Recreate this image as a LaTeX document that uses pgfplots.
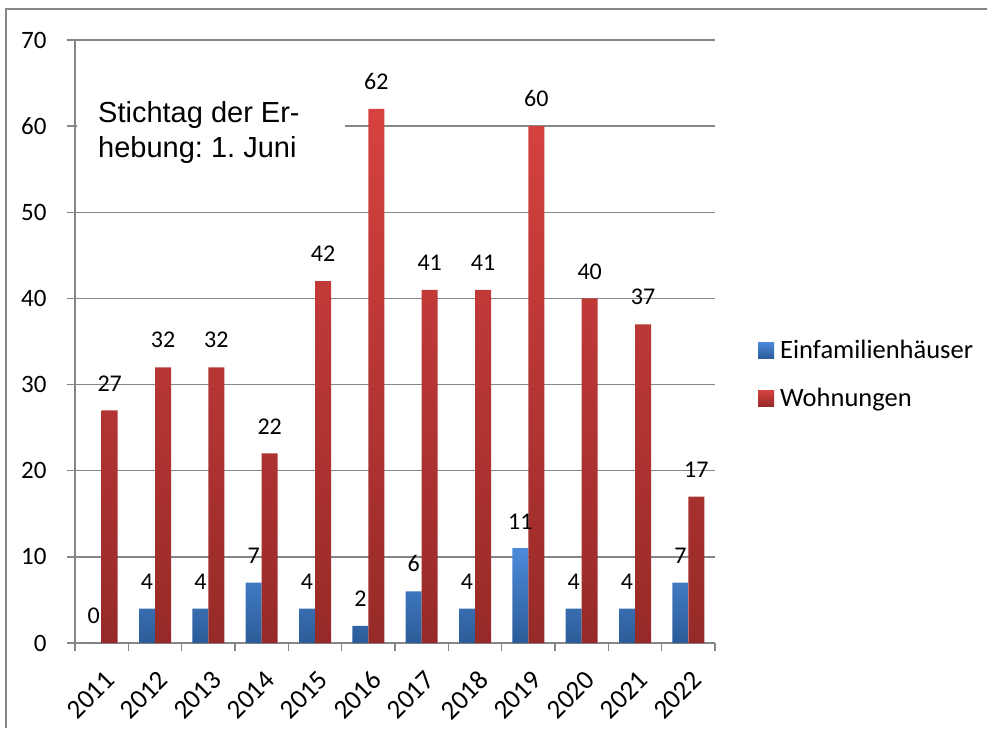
\documentclass[border=0pt]{standalone}
\usepackage{pgfplots}
\pgfplotsset{compat=1.18}
\usepackage{fontspec}
\setmainfont{Carlito}
\newfontfamily\arialfont{Liberation Sans}
\definecolor{axgray}{RGB}{134,134,134}
\definecolor{bluetop}{RGB}{76,138,218}
\definecolor{bluebot}{RGB}{44,92,152}
\definecolor{redtop}{RGB}{214,66,64}
\definecolor{redbot}{RGB}{150,42,40}
\frenchspacing
\begin{document}
\begin{tikzpicture}
\useasboundingbox (0,0) rectangle (987pt,728pt);
\draw[axgray, line width=1.5pt] (6pt,0pt) -- (6pt,719pt) -- (987pt,719pt);
\begin{axis}[
  at={(75pt,85pt)}, anchor=south west,
  scale only axis, width=640pt, height=603pt,
  xmin=-0.5, xmax=11.5, ymin=0, ymax=70,
  ybar=0pt, bar width=16pt,
  axis x line*=bottom, axis y line*=left,
  axis line style={axgray, line width=1.5pt},
  ymajorgrids, grid style={axgray, line width=1.5pt},
  ytick={0,10,...,70},
  xtick={-0.5,0.5,...,11.5},
  x tick label as interval,
  xticklabels={2011,2012,2013,2014,2015,2016,2017,2018,2019,2020,2021,2022},
  tick style={axgray, line width=1.5pt},
  major tick length=8pt, tick align=outside,
  /pgf/number format/assume math mode=true,
  ticklabel style={font=\fontsize{25}{29}\selectfont, text=black},
  yticklabel style={xshift=-17pt},
  xticklabel style={xshift=2pt, yshift=-18pt, rotate=45, anchor=north east, inner sep=0pt, font=\fontsize{27}{30}\selectfont},
  nodes near coords,
  every node near coord/.append style={font=\fontsize{24}{28}\selectfont, text=black, inner sep=0pt, anchor=south, yshift=19pt},
  legend style={at={(1.0625,0.446)}, anchor=west, draw=none, fill=none,
    font=\fontsize{26.5}{31}\selectfont, row sep=24pt, legend cell align=left},
  legend image code/.code={\path[#1, draw=none] (0pt,-8pt) rectangle (16pt,8pt); \path (20pt,0pt);},
]
\addplot[draw=none, top color=bluetop, bottom color=bluebot] coordinates {
  (0,0) (1,4) (2,4) (3,7) (4,4) (5,2) (6,6) (7,4) (8,11) (9,4) (10,4) (11,7)};
\addlegendentry{Einfamilienhäuser}
\addplot[draw=none, top color=redtop, bottom color=redbot] coordinates {
  (0,27) (1,32) (2,32) (3,22) (4,42) (5,62) (6,41) (7,41) (8,60) (9,40) (10,37) (11,17)};
\addlegendentry{Wohnungen}
\end{axis}
\fill[white] (77pt,643pt) rectangle (345pt,550pt);
\node[anchor=base west, inner sep=0pt, font=\arialfont\fontsize{29}{34}\selectfont] at (98pt,605pt) {Stichtag der Er-};
\node[anchor=base west, inner sep=0pt, font=\arialfont\fontsize{29}{34}\selectfont] at (98pt,570pt) {hebung: 1. Juni};
\end{tikzpicture}
\end{document}
